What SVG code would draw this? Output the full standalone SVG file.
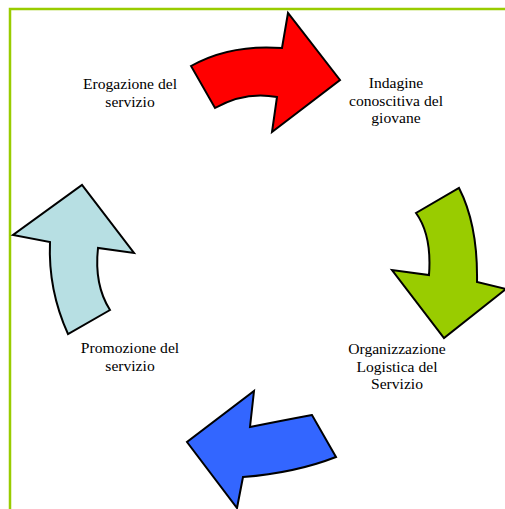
<svg xmlns="http://www.w3.org/2000/svg" width="505" height="509" viewBox="0 0 505 509">
  <style>
    .frame { fill: none; stroke: #99cc00; stroke-width: 2.5; }
    .arrow { stroke: #000; stroke-width: 2; stroke-linejoin: miter; }
    .label { font-family: "Liberation Serif", "Times New Roman", serif; font-size: 15.6px; fill: #000; text-anchor: middle; }
  </style>
  <rect x="0" y="0" width="505" height="509" fill="#fff"/>
  <rect class="frame" x="10" y="9" width="520" height="520"/>

  <g id="connectors">
    <!-- red: top arrow pointing right -->
    <path class="arrow" fill="#ff0000" d="M191,66 Q230,44 282,48 L288,13 L340,80 L272,132 L277,97 Q245,91 215,108 Z"/>
    <!-- green: right arrow pointing down -->
    <path class="arrow" fill="#99cc00" d="M459,188 Q478,225 477,282 L506,289 L444,338 L392,270 L429,275 Q432,235 416,213 Z"/>
    <!-- blue: bottom arrow pointing left -->
    <path class="arrow" fill="#3366ff" d="M336,457 Q295,473 243,477 L237,508 L187,442 L254,391 L250,427 Q285,420 312,415 Z"/>
    <!-- light blue: left arrow pointing up -->
    <path class="arrow" fill="#b7dfe3" d="M68,334 Q48,290 50,242 L13,235 L82,185 L134,253 L98,248 Q94,285 110,310 Z"/>
  </g>

  <g id="node-erogazione">
    <text class="label" x="130" y="89">Erogazione del</text>
    <text class="label" x="130" y="106.5">servizio</text>
  </g>
  <g id="node-indagine">
    <text class="label" x="396" y="88">Indagine</text>
    <text class="label" x="396" y="105.5">conoscitiva del</text>
    <text class="label" x="396" y="123">giovane</text>
  </g>
  <g id="node-organizzazione">
    <text class="label" x="397" y="354">Organizzazione</text>
    <text class="label" x="397" y="371.5">Logistica del</text>
    <text class="label" x="397" y="389">Servizio</text>
  </g>
  <g id="node-promozione">
    <text class="label" x="130" y="353">Promozione del</text>
    <text class="label" x="130" y="370.5">servizio</text>
  </g>
</svg>
